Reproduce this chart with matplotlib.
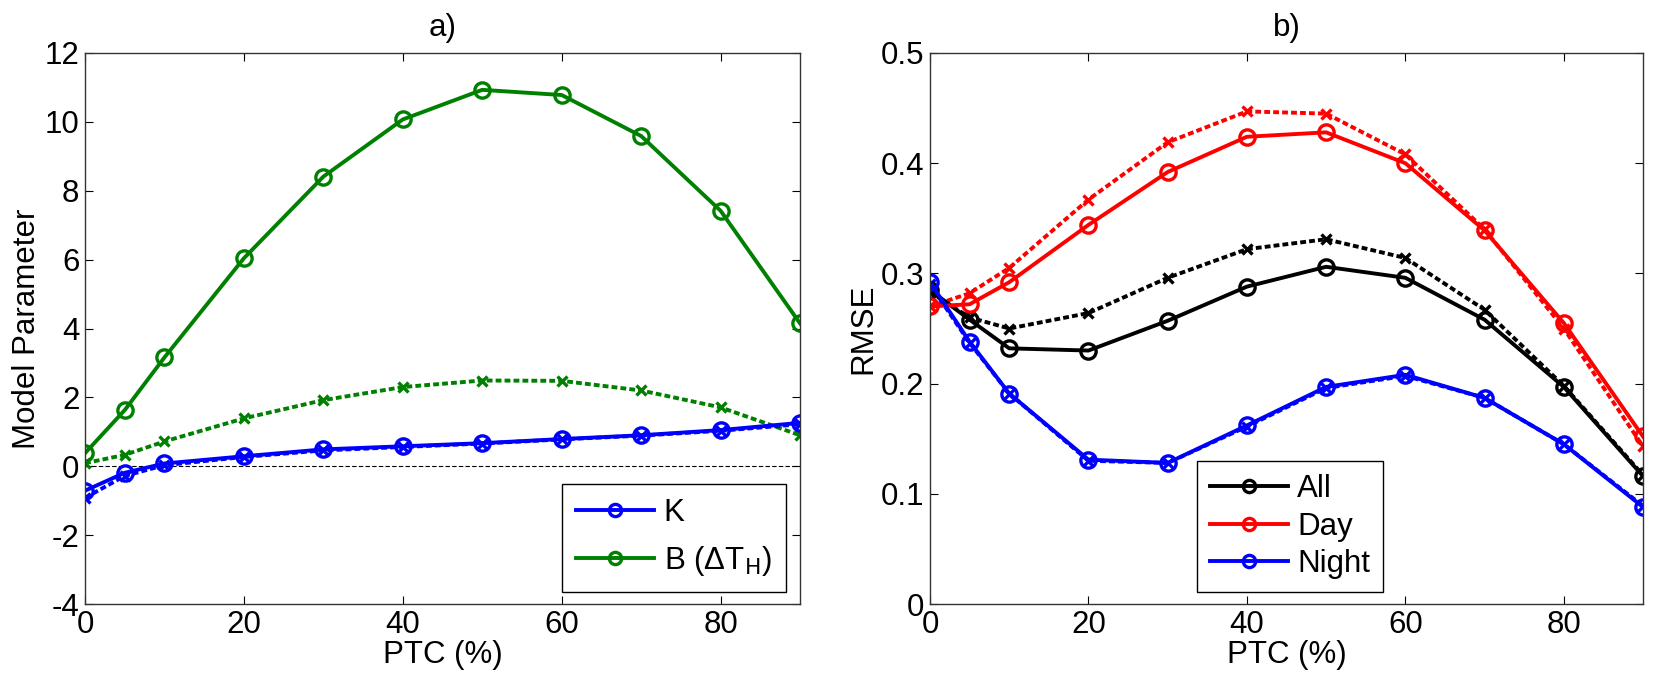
import numpy as np
import matplotlib
matplotlib.use('Agg')
import matplotlib.pyplot as plt

plt.rcParams['font.family'] = ['Liberation Sans', 'DejaVu Sans']
plt.rcParams['mathtext.default'] = 'regular'
plt.rcParams['axes.unicode_minus'] = False

# PTC (%) values
ptc = [0, 5, 10, 20, 30, 40, 50, 60, 70, 80, 90]

# a) model parameters
k_fit = [-0.71, -0.19, 0.08, 0.29, 0.49, 0.58, 0.67, 0.79, 0.90, 1.05, 1.26]
k_alt = [-0.92, -0.28, 0.03, 0.27, 0.46, 0.56, 0.66, 0.78, 0.89, 1.03, 1.22]
b_fit = [0.38, 1.63, 3.16, 6.04, 8.41, 10.07, 10.93, 10.78, 9.59, 7.42, 4.15]
b_alt = [0.09, 0.33, 0.72, 1.39, 1.92, 2.30, 2.49, 2.48, 2.20, 1.71, 0.90]

# b) RMSE
all_fit = [0.285, 0.258, 0.232, 0.230, 0.257, 0.288, 0.306, 0.296, 0.258, 0.197, 0.116]
all_alt = [0.283, 0.260, 0.250, 0.264, 0.296, 0.322, 0.331, 0.314, 0.267, 0.198, 0.117]
day_fit = [0.270, 0.272, 0.292, 0.344, 0.392, 0.424, 0.428, 0.400, 0.339, 0.255, 0.152]
day_alt = [0.270, 0.282, 0.305, 0.367, 0.419, 0.447, 0.445, 0.408, 0.340, 0.250, 0.143]
night_fit = [0.292, 0.238, 0.191, 0.131, 0.128, 0.162, 0.197, 0.208, 0.187, 0.145, 0.088]
night_alt = [0.290, 0.237, 0.191, 0.130, 0.128, 0.161, 0.196, 0.207, 0.187, 0.145, 0.089]

green = '#008000'
fs = 22.5
W, H = 1661, 687

fig = plt.figure(figsize=(W / 100, H / 100), dpi=100)
ax1 = fig.add_axes([85 / W, 83 / H, 715 / W, 551 / H])
ax2 = fig.add_axes([930 / W, 83 / H, 713 / W, 551 / H])

solid = dict(lw=2.8, marker='o', ms=11, mfc='none', mew=2.4)
dash = dict(lw=2.8, ls=(0, (1.5, 0.8)), marker='x', ms=7, mew=2.4)

# a)
ax1.axhline(0, color='k', lw=0.8, ls='--', dashes=(4, 2))
ax1.plot(ptc, b_alt, color=green, **dash)
ax1.plot(ptc, k_alt, color='b', **dash)
ax1.plot(ptc, k_fit, color='b', label='K', **solid)
ax1.plot(ptc, b_fit, color=green, label='B ($\\Delta$T$_{\\mathsf{H}}$)', **solid)
ax1.set_xlim(0, 90)
ax1.set_ylim(-4, 12)
ax1.set_yticks(np.arange(-4, 13, 2))
ax1.set_xticks([0, 20, 40, 60, 80])
ax1.set_xlabel('PTC (%)', fontsize=fs, labelpad=0)
ax1.set_ylabel('Model Parameter', fontsize=fs, labelpad=2)
ax1.set_title('a)', fontsize=fs, pad=12)
ax1.legend(loc='lower right', bbox_to_anchor=(0.98, 0.022), fontsize=fs,
           fancybox=False, edgecolor='k', framealpha=1, borderaxespad=0,
           handlelength=2.5, labelspacing=0.5, borderpad=0.45, handletextpad=0.3,
           markerscale=0.8)

# b)
ax2.plot(ptc, all_alt, color='k', **dash)
ax2.plot(ptc, day_alt, color='r', **dash)
ax2.plot(ptc, night_alt, color='b', **dash)
ax2.plot(ptc, all_fit, color='k', label='All', **solid)
ax2.plot(ptc, day_fit, color='r', label='Day', **solid)
ax2.plot(ptc, night_fit, color='b', label='Night', **solid)
ax2.set_xlim(0, 90)
ax2.set_ylim(0, 0.5)
ax2.set_yticks([0, 0.1, 0.2, 0.3, 0.4, 0.5])
ax2.set_yticklabels(['0', '0.1', '0.2', '0.3', '0.4', '0.5'])
ax2.set_xticks([0, 20, 40, 60, 80])
ax2.set_xlabel('PTC (%)', fontsize=fs, labelpad=0)
ax2.set_ylabel('RMSE', fontsize=fs, labelpad=2)
ax2.set_title('b)', fontsize=fs, pad=12)
ax2.legend(loc='lower right', bbox_to_anchor=(0.635, 0.022), fontsize=fs,
           fancybox=False, edgecolor='k', framealpha=1, borderaxespad=0,
           handlelength=2.5, labelspacing=0.25, borderpad=0.4, handletextpad=0.3,
           markerscale=0.8)

for ax in (ax1, ax2):
    ax.tick_params(direction='in', top=True, right=True, length=6,
                   labelsize=fs, pad=4)
    for s in ax.spines.values():
        s.set_linewidth(1.0)
        s.set_color('#333333')

fig.savefig('out.png', dpi=100)
